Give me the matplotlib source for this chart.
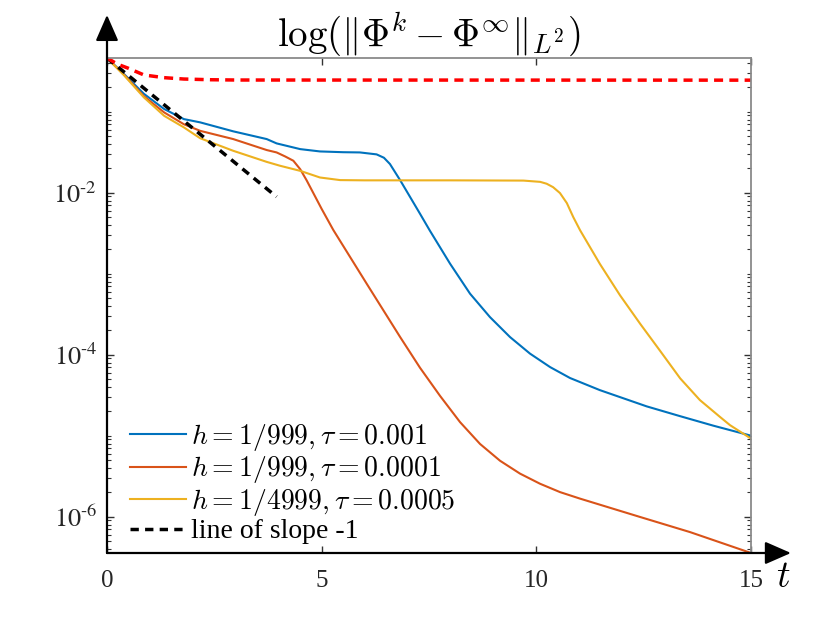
import numpy as np
import matplotlib
matplotlib.use("Agg")
import matplotlib.pyplot as plt
from matplotlib.font_manager import FontProperties
from matplotlib.ticker import FixedLocator, FuncFormatter, NullFormatter

plt.rcParams['font.family'] = ['Liberation Serif', 'DejaVu Serif']
plt.rcParams['mathtext.fontset'] = 'stix'

# --- data ---
t_blue = [0, 0.4, 0.86, 1.33, 1.79, 2.17, 2.94, 3.72, 3.95, 4.5, 4.96, 5.5,
          5.89, 6.28, 6.45, 6.59, 6.83, 7.29, 7.52, 7.99, 8.456, 8.92, 9.387,
          9.853, 10.32, 10.785, 11.48, 12.57, 13.35, 14.12, 15]
v_blue = [0.46, 0.29, 0.166, 0.108, 0.081, 0.0738, 0.0572, 0.0459, 0.0406,
          0.0345, 0.0323, 0.0316, 0.0314, 0.0297, 0.027, 0.0226, 0.0142,
          0.0055, 3.4e-3, 1.33e-3, 5.66e-4, 2.91e-4, 1.65e-4, 1.03e-4,
          7.03e-5, 5.15e-5, 3.65e-5, 2.3e-5, 1.74e-5, 1.33e-5, 1.0e-5]

t_red = [0, 0.4, 0.86, 1.33, 1.79, 2.17, 2.94, 3.72, 3.95, 4.15, 4.34, 4.5,
         4.65, 5.0, 5.27, 6.05, 6.825, 7.29, 7.757, 8.223, 8.689, 9.155,
         9.62, 10.086, 10.552, 11.018, 12.42, 13.58, 15]
v_red = [0.46, 0.285, 0.155, 0.098, 0.070, 0.058, 0.0459, 0.0336, 0.0314,
         0.028, 0.0248, 0.0195, 0.0142, 0.0063, 0.00347, 7.5e-4, 1.66e-4,
         6.9e-5, 3.1e-5, 1.47e-5, 7.9e-6, 4.9e-6, 3.4e-6, 2.55e-6,
         2.01e-6, 1.67e-6, 9.9e-7, 6.45e-7, 3.56e-7]

t_yel = [0, 0.4, 0.86, 1.33, 1.79, 2.17, 2.94, 3.72, 4.03, 4.5, 4.96, 5.43,
         6.0, 8.0, 9.7, 10.09, 10.24, 10.39, 10.55, 10.71, 10.86, 11.02,
         11.48, 11.95, 12.42, 12.88, 13.35, 13.81, 14.28, 14.51, 15]
v_yel = [0.46, 0.28, 0.150, 0.089, 0.064, 0.047, 0.0329, 0.024, 0.0215,
         0.0186, 0.0154, 0.0143, 0.0142, 0.0142, 0.0141, 0.0136, 0.0129,
         0.0117, 0.0099, 0.00745, 0.0050, 0.00343, 0.00132, 5.4e-4,
         2.4e-4, 1.12e-4, 5.1e-5, 2.75e-5, 1.7e-5, 1.35e-5, 9.2e-6]

t_ref = [0, 0.25, 0.5, 0.86, 1.33, 1.79, 2.41, 3.0, 15]
v_ref = [0.46, 0.385, 0.343, 0.284, 0.263, 0.253, 0.248, 0.246, 0.245]

t_slope = [0, 3.95]
v_slope = [0.46, 0.0089]

labels = [r'$h=1/999,\tau=0.001$', r'$h=1/999,\tau=0.0001$',
          r'$h=1/4999,\tau=0.0005$', 'line of slope -1']
x_ticks = [0, 5, 10, 15]
y_ticks = [1e-6, 1e-4, 1e-2]
title = r'$\log(\|\Phi^k-\Phi^\infty\|_{L^2})$'

c_blue = '#0072BD'
c_red = '#D95319'
c_yel = '#EDB120'
box_gray = '#8a8a8a'

fig = plt.figure(figsize=(8.3, 6.23), dpi=100)
ax = fig.add_axes([107/830, 70/623, 644/830, 495/623])

ax.plot(t_blue, v_blue, color=c_blue, lw=1.5, label=labels[0])
ax.plot(t_red, v_red, color=c_red, lw=1.5, label=labels[1])
ax.plot(t_yel, v_yel, color=c_yel, lw=1.5, label=labels[2])
ax.plot(t_slope, v_slope, color='k', lw=2.5, dashes=(2.4, 1.8), label=labels[3])
ax.plot(t_ref, v_ref, color='r', lw=2.5, dashes=(2.6, 1.8))

ax.set_yscale('log')
ax.set_xlim(0, 15)
ax.set_ylim(3.56e-7, 0.46)

ax.xaxis.set_major_locator(FixedLocator(x_ticks))
ax.yaxis.set_major_locator(FixedLocator(y_ticks))
minors = [k * 10.0**e for e in range(-7, 0) for k in range(1, 10)
          if not (k == 1 and e in (-6, -4, -2))]
ax.yaxis.set_minor_locator(FixedLocator(minors))
ax.yaxis.set_minor_formatter(NullFormatter())
ax.yaxis.set_major_formatter(FuncFormatter(
    lambda v, p: r'$10^{\text{-}%d}$' % round(-np.log10(v))))

ax.tick_params(which='both', direction='in', top=True, right=True,
               color='#333333', labelsize=18, labelcolor='#262626')
ax.tick_params(axis='x', pad=12)
ax.tick_params(axis='y', pad=7, labelsize=19)
ax.tick_params(which='major', length=5, width=1)
ax.tick_params(which='minor', length=3, width=0.8)

for s in ax.spines.values():
    s.set_color(box_gray)
    s.set_linewidth(1.3)

# black arrow axes
arrow = dict(arrowstyle='-|>,head_length=0.8,head_width=0.35', color='k',
             lw=1.6, shrinkA=0, shrinkB=0, mutation_scale=20)
ax.annotate('', xy=(0, 1.087), xytext=(0, 0), xycoords='axes fraction',
            arrowprops=arrow, annotation_clip=False)
ax.annotate('', xy=(1.062, 0), xytext=(0, 0), xycoords='axes fraction',
            arrowprops=arrow, annotation_clip=False)

ax.text(1.05, -0.05, r'$t$', transform=ax.transAxes, fontsize=27,
        ha='center', va='center', math_fontfamily='cm')

ax.set_title(title, fontsize=28, pad=7, math_fontfamily='cm')

leg_font = FontProperties(family='Liberation Serif', size=20,
                          math_fontfamily='cm')
ax.legend(loc='lower left', bbox_to_anchor=(0.006, -0.022), frameon=False,
          prop=leg_font, handlelength=2.0, handletextpad=0.2,
          labelspacing=0.05, borderaxespad=0.3)

fig.savefig('out.png', dpi=100)
